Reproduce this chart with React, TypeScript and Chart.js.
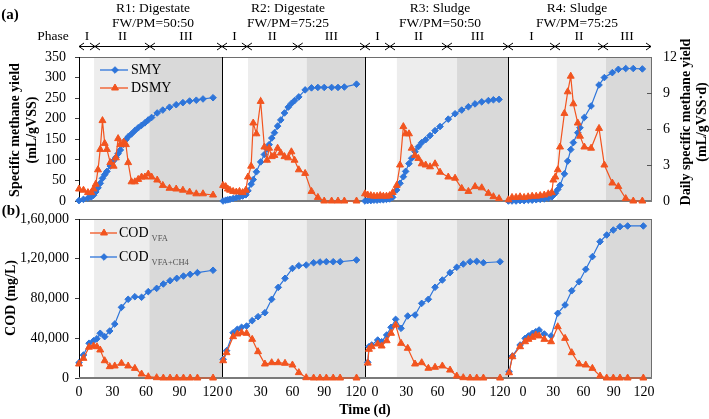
import React, { useEffect, useRef } from 'react';
import { Chart, registerables } from 'chart.js';

Chart.register(...registerables);

const W = 709;
const H = 419;
const FONT = "'Liberation Serif', 'Times New Roman', Times, serif";
const BLUE = '#2E75DA';
const ORANGE = '#F2541F';
const SHADE_II = '#EDEDED';
const SHADE_III = '#D9D9D9';

// ---------- text ----------
const reactorNames = ['R1: Digestate', 'R2: Digestate', 'R3: Sludge', 'R4: Sludge'];
const feedRatios = ['FW/PM=50:50', 'FW/PM=75:25', 'FW/PM=50:50', 'FW/PM=75:25'];
const phaseLabels = ['I', 'II', 'III'];
const timeTickValues = [0, 30, 60, 90, 120];
const timeTickLabels = ['0', '30', '60', '90', '120'];
const codTickValues = [0, 40000, 80000, 120000, 160000];
const codTickLabels = ['0', '40,000', '80,000', '1,20,000', '1,60,000'];
const topSeriesNames = ['SMY', 'DSMY'];
const codMain = 'COD';
const codSubs = ['VFA', 'VFA+CH4'];

// ---------- phase boundaries (day where phase II and phase III start) ----------
const r1Phases = [13.5, 63];
const r2Phases = [18, 73.5];
const r3Phases = [21, 78.7];
const r4Phases = [33.5, 82.2];
const r1ArrowPhases = [14.3, 63.5];
const r2ArrowPhases = [17, 65];
const r3ArrowPhases = [14.4, 69];
const r4ArrowPhases = [31.7, 79.4];

// ---------- (a) specific methane yield ----------
const r1Days = [0, 4, 8, 11, 13, 15, 17, 19, 21, 23, 25, 28, 31, 33, 35, 37, 40, 42, 44, 47, 50, 53, 56, 59, 62, 65, 70, 75, 81, 87, 93, 99, 105, 111, 120];
const r1Smy = [1, 4, 7, 10, 14, 22, 32, 43, 55, 64, 72, 85, 98, 106, 115, 124, 138, 149, 156, 163, 171, 178, 184, 190, 197, 203, 214, 221, 228, 234, 239, 243, 245, 248, 251];
const r1Dsmy = [1.0, 0.9, 0.7, 0.7, 1.0, 1.4, 2.6, 4.3, 6.7, 4.8, 4.3, 3.2, 2.9, 3.6, 5.2, 4.7, 4.9, 4.7, 3.2, 1.6, 1.6, 1.8, 2.0, 2.0, 2.25, 2.0, 1.75, 1.3, 1.06, 1.0, 0.9, 0.75, 0.6, 0.6, 0.5];

const r2Days = [-5.5, -3, -1, 1, 4, 7, 10, 13, 16, 18, 21, 23, 26, 30, 33.5, 36, 38, 40.5, 43, 46, 49, 52.5, 56, 59, 62, 66, 72, 78, 84, 90, 97, 103, 109, 120.5];
const r2Smy = [0, 2, 3, 4, 6, 8, 10, 12, 15, 25, 41, 52, 71, 95, 113, 126, 137, 153, 166, 182, 197, 214, 228, 237, 244, 253, 270, 275, 276, 276, 276, 276, 277, 284];
const r2Dsmy = [1.3, 1.2, 1.0, 0.9, 0.8, 0.75, 0.8, 0.7, 0.9, 2.0, 2.9, 6.5, 5.6, 8.3, 4.5, 3.4, 4.4, 3.7, 3.8, 4.4, 4.0, 3.7, 3.6, 4.1, 3.4, 2.6, 2.3, 0.8, 0.3, 0, 0, 0, 0, 0];

const r3Days = [-9.6, -7, -4, -1, 2, 5, 8, 11, 14, 17, 20.8, 24, 27.2, 29.4, 32.6, 35.2, 38.4, 41.6, 44.8, 48.6, 52.8, 57.6, 62.4, 70.3, 76.8, 83.2, 89.6, 96, 102.4, 108.8, 113.6, 119];
const r3Smy = [0, 1, 1, 2, 2, 3, 3, 4, 5, 9, 27, 43, 59, 72, 91, 104, 120, 132, 142, 149, 159, 171, 181, 199, 212, 221, 229, 236, 241, 244, 246, 247];
const r3Dsmy = [0.6, 0.5, 0.45, 0.4, 0.4, 0.45, 0.4, 0.4, 0.45, 0.7, 1.3, 3.0, 6.2, 5.6, 5.6, 4.4, 3.8, 3.55, 3.1, 3.0, 2.85, 3.1, 2.4, 2.0, 1.9, 1.05, 0.8, 1.2, 1.1, 0.64, 0.36, 0.2];

const r4Days = [-14.6, -11, -7, -3, 1, 5, 9, 13, 17, 21, 25, 28.5, 30, 32, 34.4, 36.7, 41, 44.3, 47.3, 49.9, 54.3, 56.5, 60.8, 67.5, 75.4, 80.7, 88.6, 94.6, 101.9, 109.4, 118.4];
const r4Smy = [0, 0, 0, 1, 1, 2, 2, 3, 4, 5, 7, 10, 14, 19, 28, 38, 66, 97, 125, 142, 166, 178, 203, 231, 282, 300, 312, 320, 322, 322, 321];
const r4Dsmy = [0.1, 0.3, 0.3, 0.35, 0.3, 0.35, 0.4, 0.4, 0.45, 0.5, 0.6, 0.7, 1.75, 2.0, 2.6, 4.5, 7.3, 9.1, 10.4, 8.1, 6.5, 5.4, 4.5, 4.4, 6.05, 3.0, 1.5, 1.2, 0.2, 0.0, 0.0];

// ---------- (b) COD ----------
const r1CodDays = [0, 4, 9, 13, 16, 19, 23, 27.5, 32, 38, 44, 50, 56, 62, 69.5, 75.5, 81.5, 87.5, 93.5, 99.5, 106, 120];
const r1CodVfa = [14100, 19800, 31000, 32200, 31500, 28200, 17400, 11400, 12100, 14800, 12100, 9700, 4000, 1300, 300, 0, 0, 0, 0, 0, 0, 0];
const r1CodTotal = [15400, 23100, 35000, 37500, 39500, 45000, 41600, 47300, 54300, 71100, 79200, 81800, 81200, 86900, 90200, 94600, 97900, 100300, 102600, 104300, 106000, 108400];

const r2CodDays = [-5.4, -2.2, 4, 8, 12, 16.7, 22, 27.5, 34, 40.4, 46.6, 53, 60, 66, 73, 80, 86, 92, 98.5, 105, 120.5];
const r2CodVfa = [17400, 25500, 41600, 44300, 45600, 45000, 38900, 26500, 14100, 15400, 15400, 14800, 13100, 5400, 300, 0, 0, 0, 0, 0, 0];
const r2CodTotal = [18800, 27500, 45600, 49000, 51000, 52300, 57700, 61700, 65700, 79200, 91200, 100300, 110300, 113000, 113700, 116000, 116700, 117000, 117000, 117000, 118700];

const r3CodDays = [-7, -5.8, -3.2, 2.6, 6.4, 11.2, 15.4, 19.8, 25, 31.4, 38.4, 44.8, 51.2, 57.6, 64.6, 72, 78.4, 84.7, 91.2, 97.6, 104, 120];
const r3CodVfa = [15000, 28900, 31500, 34200, 32200, 37500, 45000, 53300, 34900, 29900, 14100, 15400, 9800, 10800, 12100, 8000, 2000, 300, 0, 0, 0, 0];
const r3CodTotal = [15800, 31500, 33200, 38200, 36500, 43300, 51000, 59000, 50000, 62400, 63400, 75100, 79200, 91300, 98600, 106000, 111400, 114700, 117000, 117400, 116000, 117000];

const r4CodDays = [-13.9, -10.6, -3, 2, 5.3, 9.3, 12.6, 15.9, 21.1, 27.8, 34.4, 41.7, 48.3, 55.6, 62.2, 68.8, 76.4, 83, 89.6, 96.2, 103.8, 119.4];
const r4CodVfa = [5300, 21400, 31500, 36500, 38900, 40900, 43300, 42300, 38900, 36500, 51600, 39900, 25500, 14100, 13100, 9700, 2000, 0, 0, 0, 0, 0];
const r4CodTotal = [6300, 22100, 33200, 39900, 42300, 45000, 46600, 48300, 44300, 42300, 65100, 73500, 87800, 96900, 109400, 122100, 137200, 143900, 148900, 152300, 153000, 153000];

// ---------- layout ----------
const plotEdges = [79, 222, 365, 508, 652];
const TOP_ROW = [57, 201];
const BOT_ROW = [219, 378];
const X_AXIS_H = 22;
const RIGHT_AXIS_W = 30;
const dayRanges = [[0, 128], [-6.5, 128.5], [-9.6, 127.6], [-15, 128]];
const titleCenters = [153, 288, 440, 577];

const topDays = [r1Days, r2Days, r3Days, r4Days];
const topSmy = [r1Smy, r2Smy, r3Smy, r4Smy];
const topDsmy = [r1Dsmy, r2Dsmy, r3Dsmy, r4Dsmy];
const botDays = [r1CodDays, r2CodDays, r3CodDays, r4CodDays];
const botVfa = [r1CodVfa, r2CodVfa, r3CodVfa, r4CodVfa];
const botTotal = [r1CodTotal, r2CodTotal, r3CodTotal, r4CodTotal];
const shadeBounds = [r1Phases, r2Phases, r3Phases, r4Phases];
const arrowBounds = [r1ArrowPhases, r2ArrowPhases, r3ArrowPhases, r4ArrowPhases];

function drawMarker(ctx: CanvasRenderingContext2D, style: string, x: number, y: number, color: string) {
  ctx.fillStyle = color;
  ctx.strokeStyle = color;
  ctx.lineWidth = 1;
  ctx.beginPath();
  if (style === 'rectRot') {
    const r = 3.3;
    ctx.moveTo(x, y - r);
    ctx.lineTo(x + r, y);
    ctx.lineTo(x, y + r);
    ctx.lineTo(x - r, y);
  } else {
    const r = 4;
    ctx.moveTo(x, y - r);
    ctx.lineTo(x + r * 0.866, y + r / 2);
    ctx.lineTo(x - r * 0.866, y + r / 2);
  }
  ctx.closePath();
  ctx.fill();
  ctx.stroke();
}

function drawDoubleArrow(ctx: CanvasRenderingContext2D, x1: number, x2: number, y: number) {
  const h = 5;
  const v = 3.5;
  ctx.beginPath();
  ctx.moveTo(x1, y);
  ctx.lineTo(x2, y);
  ctx.moveTo(x1 + h, y - v);
  ctx.lineTo(x1, y);
  ctx.lineTo(x1 + h, y + v);
  ctx.moveTo(x2 - h, y - v);
  ctx.lineTo(x2, y);
  ctx.lineTo(x2 - h, y + v);
  ctx.stroke();
}

function series(label: string, xs: number[], ys: number[], color: string, style: string, axis: string) {
  return {
    label,
    data: xs.map((x, j) => ({ x, y: ys[j] })),
    borderColor: color,
    backgroundColor: color,
    borderWidth: 1.2,
    pointStyle: style,
    pointRadius: style === 'triangle' ? 4 : 3.3,
    pointBorderWidth: 1,
    pointBackgroundColor: color,
    pointBorderColor: color,
    yAxisID: axis,
    tension: 0,
    clip: false,
  } as any;
}

function buildChart(canvas: HTMLCanvasElement, row: number, i: number): Chart {
  const isTop = row === 0;
  const left = plotEdges[i];
  const right = plotEdges[i + 1];
  const top = isTop ? TOP_ROW[0] : BOT_ROW[0];
  const bottom = isTop ? TOP_ROW[1] : BOT_ROW[1];
  const showLeft = i === 0;
  const showRight = isTop && i === 3;
  const showX = !isTop;
  const tickFont = { family: FONT, size: 14 };

  const datasets = isTop
    ? [
        series(topSeriesNames[1], topDays[i], topDsmy[i], ORANGE, 'triangle', 'y1'),
        series(topSeriesNames[0], topDays[i], topSmy[i], BLUE, 'rectRot', 'y'),
      ]
    : [
        series(codMain + ' ' + codSubs[0], botDays[i], botVfa[i], ORANGE, 'triangle', 'y'),
        series(codMain + ' ' + codSubs[1], botDays[i], botTotal[i], BLUE, 'rectRot', 'y'),
      ];

  const scales: any = {
    x: {
      type: 'linear',
      min: dayRanges[i][0],
      max: dayRanges[i][1],
      display: showX,
      afterBuildTicks: (s: any) => {
        s.ticks = timeTickValues.map((v) => ({ value: v }));
      },
      afterFit: (s: any) => {
        s.height = showX ? X_AXIS_H : 0;
      },
      grid: { display: false, drawTicks: false },
      border: { display: false },
      ticks: {
        color: '#000',
        font: tickFont,
        padding: 6,
        maxRotation: 0,
        autoSkip: false,
        callback: (v: any) => timeTickLabels[timeTickValues.indexOf(Number(v))] ?? '',
      },
    },
    y: {
      type: 'linear',
      position: 'left',
      min: 0,
      max: isTop ? 350 : 160000,
      display: showLeft,
      afterFit: (s: any) => {
        s.width = showLeft ? left : 0;
      },
      grid: { display: true, drawOnChartArea: false, drawTicks: true, tickLength: 4, color: '#404040' },
      border: { display: false },
      ticks: {
        stepSize: isTop ? 50 : 40000,
        color: '#000',
        font: tickFont,
        padding: isTop ? 9 : 6,
        callback: (v: any) =>
          isTop ? String(v) : codTickLabels[codTickValues.indexOf(Number(v))] ?? '',
      },
    },
  };
  if (isTop) {
    scales.y1 = {
      type: 'linear',
      position: 'right',
      min: 0,
      max: 12,
      display: showRight,
      afterFit: (s: any) => {
        s.width = showRight ? RIGHT_AXIS_W : 0;
      },
      grid: { display: false, drawTicks: false },
      border: { display: false },
      ticks: { stepSize: 3, color: '#000', font: tickFont, padding: 11 },
    };
  }

  const decor = {
    id: 'decor',
    beforeDatasetsDraw(chart: any) {
      const { ctx, chartArea: a } = chart;
      const xs = chart.scales.x;
      const [b2, b3] = shadeBounds[i];
      const p2 = xs.getPixelForValue(b2);
      const p3 = xs.getPixelForValue(b3);
      ctx.save();
      ctx.fillStyle = SHADE_II;
      ctx.fillRect(p2, a.top, p3 - p2, a.bottom - a.top);
      ctx.fillStyle = SHADE_III;
      ctx.fillRect(p3, a.top, a.right - p3, a.bottom - a.top);
      ctx.lineWidth = 1;
      ctx.strokeStyle = '#6e6e6e';
      ctx.beginPath();
      ctx.moveTo(a.left, a.top + 0.5);
      ctx.lineTo(a.right, a.top + 0.5);
      ctx.stroke();
      if (i === 3) {
        ctx.beginPath();
        ctx.moveTo(a.right - 0.5, a.top);
        ctx.lineTo(a.right - 0.5, a.bottom);
        ctx.stroke();
      }
      ctx.strokeStyle = '#000';
      ctx.beginPath();
      ctx.moveTo(a.left + 0.5, a.top);
      ctx.lineTo(a.left + 0.5, a.bottom);
      ctx.stroke();
      ctx.strokeStyle = '#7a7a7a';
      ctx.lineWidth = 2;
      ctx.beginPath();
      ctx.moveTo(a.left, a.bottom);
      ctx.lineTo(a.right, a.bottom);
      ctx.stroke();
      if (showRight) {
        const y1 = chart.scales.y1;
        ctx.lineWidth = 1;
        ctx.strokeStyle = '#555';
        [3, 6, 9].forEach((v) => {
          const py = Math.round(y1.getPixelForValue(v)) + 0.5;
          ctx.beginPath();
          ctx.moveTo(a.right - 5, py);
          ctx.lineTo(a.right, py);
          ctx.stroke();
        });
      }
      ctx.restore();
    },
    afterDraw(chart: any) {
      const { ctx, chartArea: a } = chart;
      ctx.save();
      if (isTop) {
        const xs = chart.scales.x;
        const [b2, b3] = arrowBounds[i];
        const edges = [a.left, xs.getPixelForValue(b2), xs.getPixelForValue(b3), a.right - (i === 3 ? 1 : 0)];
        ctx.strokeStyle = '#000';
        ctx.lineWidth = 1;
        ctx.fillStyle = '#000';
        ctx.font = `13.5px ${FONT}`;
        ctx.textAlign = 'center';
        ctx.textBaseline = 'middle';
        for (let k = 0; k < 3; k++) {
          drawDoubleArrow(ctx, edges[k], edges[k + 1], 46.5);
          ctx.fillText(phaseLabels[k], (edges[k] + edges[k + 1]) / 2, 36);
        }
      }
      if (i === 0) {
        const ds = chart.data.datasets;
        ctx.font = `14px ${FONT}`;
        ctx.textAlign = 'left';
        ctx.textBaseline = 'middle';
        if (isTop) {
          const entries = [
            { d: ds[1], y: 70 },
            { d: ds[0], y: 88 },
          ];
          entries.forEach(({ d, y }) => {
            ctx.strokeStyle = d.borderColor;
            ctx.lineWidth = 1.3;
            ctx.beginPath();
            ctx.moveTo(100, y);
            ctx.lineTo(128, y);
            ctx.stroke();
            drawMarker(ctx, d.pointStyle, 115, y, d.borderColor);
            ctx.fillStyle = '#000';
            ctx.fillText(d.label, 131, y);
          });
        } else {
          const entries = [
            { d: ds[0], y: 233, sub: codSubs[0] },
            { d: ds[1], y: 257, sub: codSubs[1] },
          ];
          entries.forEach(({ d, y, sub }) => {
            ctx.strokeStyle = d.borderColor;
            ctx.lineWidth = 1.3;
            ctx.beginPath();
            ctx.moveTo(90, y);
            ctx.lineTo(117, y);
            ctx.stroke();
            drawMarker(ctx, d.pointStyle, 104, y, d.borderColor);
            ctx.fillStyle = '#000';
            ctx.font = `14px ${FONT}`;
            ctx.fillText(codMain, 119, y);
            const w = ctx.measureText(codMain).width;
            ctx.font = `8.5px ${FONT}`;
            ctx.fillStyle = '#555';
            ctx.fillText(sub, 119 + w + 3, y + 6);
          });
        }
      }
      ctx.restore();
    },
  };

  return new Chart(canvas, {
    type: 'line',
    data: { datasets },
    options: {
      animation: false,
      responsive: false,
      maintainAspectRatio: false,
      devicePixelRatio: 1,
      events: [],
      layout: {
        padding: {
          left: showLeft ? 0 : left,
          right: W - right - (showRight ? RIGHT_AXIS_W : 0),
          top,
          bottom: H - bottom - (showX ? X_AXIS_H : 0),
        },
      },
      plugins: {
        legend: { display: false },
        tooltip: { enabled: false },
        title: { display: false },
      },
      scales,
    } as any,
    plugins: [decor as any],
  });
}

const textBase: React.CSSProperties = {
  position: 'absolute',
  whiteSpace: 'nowrap',
  color: '#000',
};

function Label(props: {
  x: number;
  y: number;
  size: number;
  bold?: boolean;
  rotate?: boolean;
  children: React.ReactNode;
}) {
  const { x, y, size, bold, rotate, children } = props;
  return (
    <div
      style={{
        ...textBase,
        left: x,
        top: y,
        fontSize: size,
        lineHeight: `${size}px`,
        fontWeight: bold ? 'bold' : 'normal',
        transform: `translate(-50%, -50%)${rotate ? ' rotate(-90deg)' : ''}`,
      }}
    >
      {children}
    </div>
  );
}

export default function App() {
  const canvasRefs = useRef<(HTMLCanvasElement | null)[]>([]);

  useEffect(() => {
    const charts: Chart[] = [];
    for (let row = 0; row < 2; row++) {
      for (let i = 0; i < 4; i++) {
        const c = canvasRefs.current[row * 4 + i];
        if (c) charts.push(buildChart(c, row, i));
      }
    }
    return () => charts.forEach((ch) => ch.destroy());
  }, []);

  return (
    <div
      style={{
        position: 'fixed',
        left: 0,
        top: 0,
        width: W,
        height: H,
        background: '#fff',
        overflow: 'hidden',
        fontFamily: FONT,
      }}
    >
      {[0, 1, 2, 3, 4, 5, 6, 7].map((k) => (
        <canvas
          key={k}
          ref={(el) => {
            canvasRefs.current[k] = el;
          }}
          width={W}
          height={H}
          style={{ position: 'absolute', left: 0, top: 0, width: W, height: H }}
        />
      ))}
      <Label x={10} y={14} size={15} bold>
        (a)
      </Label>
      <Label x={11} y={210} size={15} bold>
        (b)
      </Label>
      {reactorNames.map((n, k) => (
        <Label key={'n' + k} x={titleCenters[k]} y={7.5} size={13.5}>
          {n}
        </Label>
      ))}
      {feedRatios.map((n, k) => (
        <Label key={'f' + k} x={titleCenters[k]} y={22.5} size={13.5}>
          {n}
        </Label>
      ))}
      <Label x={53} y={36} size={13.5}>
        Phase
      </Label>
      <Label x={15} y={130} size={14} bold rotate>
        Specific methane yield
      </Label>
      <Label x={32} y={130} size={14} bold rotate>
        (mL/gVSS)
      </Label>
      <Label x={11} y={298} size={14} bold rotate>
        COD (mg/L)
      </Label>
      <Label x={686} y={122} size={14} bold rotate>
        Daily specific methane yield
      </Label>
      <Label x={702} y={122} size={14} bold rotate>
        (mL/gVSS·d)
      </Label>
      <Label x={365} y={410} size={14} bold>
        Time (d)
      </Label>
    </div>
  );
}
